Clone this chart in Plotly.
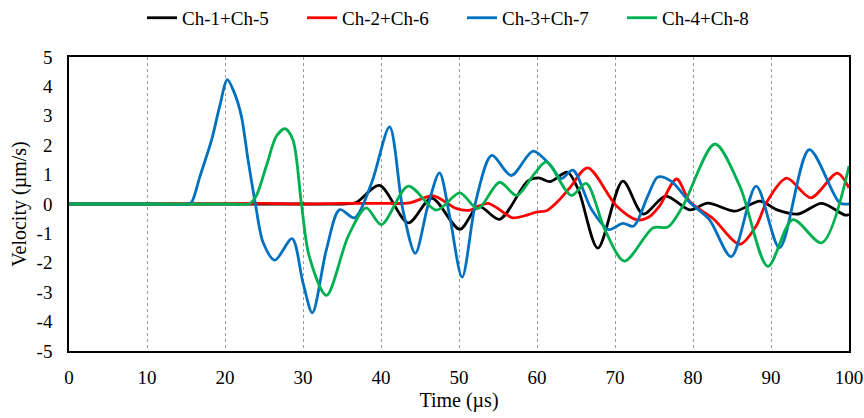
import plotly.graph_objects as go

# ---- data ----
t_ch15 = [0, 10, 20, 30, 35, 36.8, 39.8, 43.5, 46.5, 50.1, 52.5, 55.2, 58.8, 60.2, 61.7, 63.9,
          65.3, 67.8, 71.0, 73.6, 76.5, 79.6, 81.9, 85.4, 88.6, 90.7, 93.5, 96.5, 99.5, 100]
v_ch15 = [0, 0, 0, 0, 0, 0.05, 0.63, -0.64, 0.2, -0.86, -0.07, -0.52, 0.78, 0.89, 0.76, 1.08,
          0.49, -1.5, 0.78, -0.34, 0.27, -0.2, 0.03, -0.24, 0.1, -0.19, -0.34, 0.02, -0.38, -0.36]

t_ch26 = [0, 10, 20, 25, 30, 35, 40, 43.7, 46.7, 49.7, 51.4, 53.7, 56.9, 58.4, 59.9, 61.3, 62.9,
          64.2, 66.5, 70.2, 72.8, 74.3, 75.7, 77.9, 79.6, 82.6, 86.0, 88.1, 89.4, 92.0, 95.1, 98.5, 100]
v_ch26 = [0, 0, 0.01, 0.02, 0.0, 0.02, 0.02, 0.04, 0.28, -0.16, -0.21, 0.02, -0.47, -0.4, -0.28, -0.22, 0.15,
          0.55, 1.23, -0.07, -0.54, -0.45, -0.07, 0.85, 0.08, -0.5, -1.37, -0.75, 0.04, 0.88, 0.21, 1.05, 0.55]

t_ch37 = [0, 10, 15.2, 15.7, 16.8, 18.3, 19.3, 20.3, 21.2, 22.1, 22.95, 23.9, 24.9, 26.4, 28.6, 30.0,
          31.2, 33.0, 34.7, 36.6, 38.8, 41.1, 42.8, 44.4, 46.0, 47.5, 48.8, 50.4, 52.2, 54.2, 56.7,
          59.5, 61.8, 63.1, 64.6, 67.0, 69.2, 71.0, 72.4, 74.2, 75.5, 77.2, 79.6, 82.1, 84.9, 88.1,
          91.1, 94.9, 98.8, 100]
v_ch37 = [0, 0, 0, 0.05, 0.95, 2.2, 3.3, 4.23, 3.78, 2.99, 1.51, 0.0, -1.32, -1.91, -1.18, -2.68,
          -3.7, -1.55, -0.19, -0.47, 0.72, 2.62, -0.19, -1.68, -0.07, 1.06, -0.41, -2.49, 0.15, 1.65, 0.97,
          1.8, 1.29, 0.86, 1.15, -0.19, -0.87, -0.66, -0.75, 0.27, 0.92, 0.78, 0.05, -0.53, -1.79, 0.61,
          -1.49, 1.85, 0.04, 0.0]

t_ch48 = [0, 10, 20, 23.2, 24.0, 25.3, 26.6, 27.7, 28.7, 29.8, 30.8, 33.0, 35.8, 38.1, 40.05,
          43.5, 47.1, 50.1, 52.4, 55.2, 57.4, 59.7, 61.2, 64.4, 66.3, 68.7, 71.2, 74.9, 76.8, 78.7,
          82.8, 86.0, 89.6, 92.8, 96.5, 100]
v_ch48 = [0, 0, 0, 0.02, 0.27, 1.29, 2.31, 2.56, 2.19, 0.0, -1.78, -3.11, -1.09, -0.13, -0.7,
          0.61, -0.21, 0.38, -0.16, 0.74, 0.29, 1.04, 1.43, 0.29, 0.7, -0.87, -1.94, -0.81, -0.78, -0.07,
          2.04, 0.61, -2.12, -0.53, -1.32, 1.29]

names = ["Ch-1+Ch-5", "Ch-2+Ch-6", "Ch-3+Ch-7", "Ch-4+Ch-8"]
colors = ["#000000", "#FF0000", "#0070C0", "#00B050"]
series = [(t_ch15, v_ch15), (t_ch26, v_ch26), (t_ch37, v_ch37), (t_ch48, v_ch48)]

x_ticks = [0, 10, 20, 30, 40, 50, 60, 70, 80, 90, 100]
y_ticks = [-5, -4, -3, -2, -1, 0, 1, 2, 3, 4, 5]

FONT = "Liberation Serif"

fig = go.Figure()
for (t, v), n, c in zip(series, names, colors):
    fig.add_trace(go.Scatter(x=t, y=v, name=n, mode="lines",
                             line=dict(color=c, width=2.8, shape="spline", smoothing=0.85)))

fig.update_layout(
    width=864, height=418,
    paper_bgcolor="white", plot_bgcolor="white",
    margin=dict(l=69, r=15, t=57, b=67, autoexpand=False),
    font=dict(family=FONT, size=19, color="black"),
    showlegend=True,
    legend=dict(orientation="h", x=0.0936, xanchor="left", y=1.133, yanchor="middle",
                font=dict(family=FONT, size=19, color="black"), bgcolor="rgba(0,0,0,0)",
                entrywidth=115, entrywidthmode="pixels"),
    xaxis=dict(range=[0, 100], tickvals=x_ticks, ticktext=[str(v) for v in x_ticks],
               showgrid=True, gridcolor="#999999", griddash="dot", gridwidth=1,
               zeroline=False, showline=True, linecolor="black", linewidth=1.5, mirror=True,
               ticks="", ticklabelstandoff=8, tickfont=dict(family=FONT, size=19, color="black"),
               automargin=False,
               title=dict(text="Time (µs)", font=dict(family=FONT, size=20, color="black"), standoff=6)),
    yaxis=dict(range=[-5, 5], tickvals=y_ticks, ticktext=[str(v) for v in y_ticks],
               showgrid=False, zeroline=False, showline=True, linecolor="black", linewidth=1.5,
               mirror=True, ticks="", ticklabelstandoff=11, tickfont=dict(family=FONT, size=19, color="black"),
               automargin=False,
               title=dict(text="Velocity (µm/s)", font=dict(family=FONT, size=20, color="black"), standoff=5)),
)

fig.write_html("out.html", config={"displayModeBar": False},
               post_script="document.body.style.margin='0';document.body.style.padding='0';"
                           "document.body.style.overflow='hidden';")
